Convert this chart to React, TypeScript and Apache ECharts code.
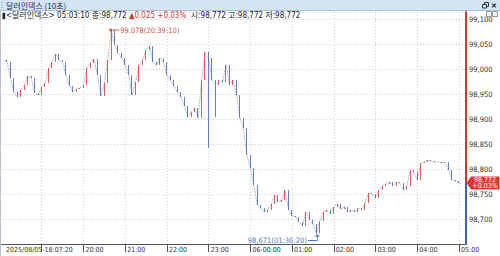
import React, { useEffect, useRef } from 'react';
import * as echarts from 'echarts';

// ---- data (seconds since 2025-08-05 00:00) ----
const openSec = 65240; // 18:07:20
const openValue = 99.018;
const sampleStartSec = 65400; // 18:10:00
const sampleStepSec = 300; // 5 minutes
const closes = [
  99.014, 98.982, 98.954, 98.944, 98.958, 98.968, 98.986, 98.982, 98.952, 98.948,
  98.964, 98.972, 99.002, 99.014, 99.030, 99.018, 99.014, 98.988, 98.966, 98.954,
  98.960, 98.962, 98.968, 99.002, 99.012, 99.020, 98.988, 98.946, 98.972, 99.018,
  99.078, 99.048, 99.032, 99.022, 99.008, 98.988, 98.948, 98.974, 99.008, 99.018,
  99.038, 99.046, 99.014, 99.008, 99.022, 99.014, 98.988, 98.978, 98.966, 98.954,
  98.944, 98.926, 98.904, 98.914, 98.922, 98.902, 98.978, 99.034, 99.022, 98.978,
  98.968, 98.978, 98.974, 99.008, 98.968, 98.978, 98.948, 98.902, 98.882, 98.828,
  98.802, 98.768, 98.728, 98.722, 98.714, 98.718, 98.730, 98.748, 98.734, 98.738,
  98.758, 98.718, 98.706, 98.704, 98.694, 98.686, 98.714, 98.698, 98.690, 98.671,
  98.696, 98.714, 98.718, 98.710, 98.724, 98.730, 98.720, 98.724, 98.714, 98.718,
  98.714, 98.722, 98.718, 98.732, 98.752, 98.750, 98.742, 98.758, 98.766, 98.770,
  98.774, 98.766, 98.774, 98.772, 98.758, 98.766, 98.798, 98.794, 98.778, 98.812,
  98.814, 98.818, 98.816, 98.814, 98.814, 98.812, 98.814, 98.798, 98.778, 98.776, 98.772,
];
const lastSec = 104590; // 05:03:10
const lastValue = 98.772;
const lastChange = 0.025;
const lastChangePct = 0.03;
const spikeIdx = [58, 60];
const spikeLow = [98.842, 98.904];
const markSecs = [74350, 92180]; // high 20:39:10, low 01:36:20 (+1 day)
const markValues = [99.078, 98.671];
const titleText = '달러인덱스 (10초)';
const nameText = '달러인덱스';
const startLabel = '2025/08/05-18:07:20';
const midnightLabel = '06-00:00';

const X_MIN = 64800, X_MAX = 105000, X_STEP = 3600;
const Y_MIN = 98.65, Y_MAX = 99.114, Y_STEP = 0.05;

const RED = '#d6352f';
const BLUE = '#3a65ad';
const NARROW = "'Liberation Sans Narrow','DejaVu Sans Condensed','Noto Sans CJK KR',sans-serif";

const fmt = (v: number) => v.toFixed(3).replace('.', ',');
const pad = (n: number) => String(n).padStart(2, '0');
const hms = (s: number) => {
  const t = s % 86400;
  return pad(Math.floor(t / 3600)) + ':' + pad(Math.floor((t % 3600) / 60)) + ':' + pad(t % 60);
};

export default function App() {
  const ref = useRef<HTMLDivElement>(null);
  useEffect(() => {
    if (!ref.current) return;
    const chart = echarts.init(ref.current, null, { renderer: 'svg' });

    const pts: [number, number][] = [[openSec, openValue]];
    closes.forEach((v, i) => pts.push([sampleStartSec + i * sampleStepSec, v]));
    pts.push([lastSec, lastValue]);

    const candles = pts.map((p, k) => {
      const o = k === 0 ? p[1] : pts[k - 1][1];
      const c = p[1];
      let lo = Math.min(o, c);
      const hi = Math.max(o, c);
      const si = spikeIdx.findIndex((idx) => sampleStartSec + idx * sampleStepSec === p[0]);
      if (si >= 0) lo = Math.min(lo, spikeLow[si]);
      return [p[0], o, c, lo, hi];
    });

    const option: any = {
      animation: false,
      backgroundColor: '#ffffff',
      grid: { left: -4.2, right: 34, top: 12, bottom: 12, containLabel: false },
      xAxis: {
        type: 'value', min: X_MIN, max: X_MAX, interval: X_STEP,
        axisLine: { show: true, lineStyle: { color: '#555', width: 1 } },
        axisTick: { show: true, length: 8, lineStyle: { color: '#555' } },
        axisLabel: {
          show: true, align: 'left', margin: 2, fontSize: 7, color: '#333', fontFamily: NARROW,
          padding: [0, 0, 0, 2], showMaxLabel: false, hideOverlap: false,
          formatter: (v: number) => {
            if (v % 3600 !== 0) return '';
            if (v === X_MIN) return '{f|' + startLabel + '}';
            if (v === X_MIN + 3600) return '';
            if (v === 86400) return midnightLabel;
            return pad(Math.floor(v / 3600) % 24) + ':00';
          },
          rich: { f: { padding: [0, 0, 0, 4], fontSize: 7, color: '#333', fontFamily: NARROW } },
        },
        splitLine: { show: true, lineStyle: { color: '#cfcfcf', type: [1, 2] } },
      },
      yAxis: {
        type: 'value', position: 'right', min: Y_MIN, max: Y_MAX, interval: Y_STEP,
        axisLine: { show: true, lineStyle: { color: BLUE, width: 2 } },
        axisTick: { show: false },
        axisLabel: {
          margin: 3, fontSize: 7.5, color: '#333', fontFamily: NARROW, showMaxLabel: false,
          formatter: (v: number) => {
            const k = Math.round((v - Y_MIN) / Y_STEP);
            if (Math.abs(Y_MIN + k * Y_STEP - v) > 1e-6 || k === 0) return '';
            return fmt(v);
          },
        },
        splitLine: { show: true, lineStyle: { color: '#cfcfcf', type: [1, 2] } },
      },
      series: [
        {
          type: 'line',
          data: pts,
          symbol: 'none',
          z: 1,
          lineStyle: { color: '#9a8ca6', width: 0.7, type: [2, 1] },
        },
        {
          type: 'candlestick',
          data: candles,
          z: 2,
          encode: { x: 0, y: [1, 2, 3, 4] },
          barWidth: 1,
          itemStyle: { color: RED, color0: BLUE, borderColor: RED, borderColor0: BLUE, borderWidth: 0.8 },
          markLine: {
            silent: true, symbol: ['none', 'none'], animation: false,
            label: { show: false },
            lineStyle: { color: RED, width: 2, type: 'solid' },
            data: [[{ coord: [X_MAX, lastValue] }, { coord: [X_MAX, Y_MAX] }]],
          },
          markPoint: {
            silent: true, animation: false,
            data: [
              {
                coord: [markSecs[0], markValues[0]],
                symbol: 'circle', symbolSize: 3,
                itemStyle: { color: '#c9504a' },
                label: {
                  show: true, position: 'right', distance: 0,
                  formatter: '{l|}{t|' + fmt(markValues[0]) + '(' + hms(markSecs[0]) + ')}',
                  rich: {
                    l: { width: 7, height: 1, backgroundColor: '#c9504a', verticalAlign: 'middle' },
                    t: { fontSize: 7.5, color: '#c9504a', fontFamily: NARROW, padding: [0, 0, 0, 1] },
                  },
                },
              },
              {
                coord: [markSecs[1], markValues[1]],
                symbol: 'path://M3,0 L6,3 L3.5,3 L3.5,8 L2.5,8 L2.5,3 L0,3 Z',
                symbolSize: [5, 7], symbolOffset: [0, 4],
                itemStyle: { color: '#5578b5' },
                label: {
                  show: true, position: 'left', distance: -2, offset: [0, 3],
                  formatter: '{t|' + fmt(markValues[1]) + '(' + hms(markSecs[1]) + ')}{l|}',
                  rich: {
                    l: { width: 9, height: 1, backgroundColor: '#5578b5', verticalAlign: 'middle' },
                    t: { fontSize: 7.5, color: '#5578b5', fontFamily: NARROW, padding: [0, 1, 0, 0] },
                  },
                },
              },
              {
                coord: [X_MAX, lastValue],
                symbol: 'path://M0,6.5 L4.5,0 L33,0 L33,13 L4.5,13 Z',
                symbolSize: [33, 13], symbolOffset: [17, 0], symbolKeepAspect: false,
                itemStyle: { color: '#e0362c' },
                label: {
                  show: true, position: 'inside', offset: [2, 0], color: '#fff', fontSize: 7,
                  lineHeight: 6.5, fontFamily: NARROW,
                  formatter: fmt(lastValue) + '\n+' + lastChangePct.toFixed(2) + '%',
                },
              },
            ],
          },
        },
      ],
      graphic: [
        { type: 'rect', z: 100, shape: { x: 0, y: 0, width: 500, height: 10 }, style: { fill: '#d3e4f2' } },
        { type: 'line', z: 100, shape: { x1: 0, y1: 10.5, x2: 500, y2: 10.5 }, style: { stroke: '#a9c1da', lineWidth: 1 } },
        { type: 'rect', z: 101, shape: { x: 1.5, y: 2, width: 1, height: 1 }, style: { fill: '#8aa2bc' } },
        { type: 'rect', z: 101, shape: { x: 1.5, y: 4.5, width: 1, height: 1 }, style: { fill: '#8aa2bc' } },
        { type: 'rect', z: 101, shape: { x: 1.5, y: 7, width: 1, height: 1 }, style: { fill: '#8aa2bc' } },
        { type: 'text', z: 101, x: 6, y: 5.5, style: { text: titleText, fill: '#1e2d52', fontSize: 8, fontFamily: "'Noto Sans CJK KR',sans-serif", verticalAlign: 'middle' } },
        { type: 'rect', z: 101, shape: { x: 484.5, y: 2.5, width: 4, height: 4 }, style: { fill: 'none', stroke: '#333', lineWidth: 1 } },
        { type: 'rect', z: 101, shape: { x: 482.5, y: 4.5, width: 4, height: 3.5 }, style: { fill: '#d3e4f2', stroke: '#333', lineWidth: 1 } },
        { type: 'text', z: 101, x: 491, y: 5.5, style: { text: '✕', fill: '#222', fontSize: 7, fontWeight: 'bold', verticalAlign: 'middle' } },
        { type: 'rect', z: 101, shape: { x: 486.5, y: 11.5, width: 5, height: 5 }, style: { fill: '#f2f2f2', stroke: '#9a9a9a', lineWidth: 1 } },
        { type: 'rect', z: 101, shape: { x: 492.5, y: 11.5, width: 5, height: 5 }, style: { fill: '#f2f2f2', stroke: '#9a9a9a', lineWidth: 1 } },
        { type: 'line', z: 101, shape: { x1: 0.5, y1: 11, x2: 0.5, y2: 256 }, style: { stroke: '#b7c3d1', lineWidth: 1 } },
        {
          type: 'text', z: 101, x: 2, y: 15.5,
          style: {
            text: '{k|▮<' + nameText + '> ' + hms(lastSec) + ' 종:' + fmt(lastValue) + ' }{r|▲' + lastChange.toFixed(3) + ' +' + lastChangePct.toFixed(2) + '%}{k|  시:' + fmt(lastValue) + ' 고:' + fmt(lastValue) + ' 저:' + fmt(lastValue) + '}',
            verticalAlign: 'middle',
            rich: {
              k: { fontSize: 8, fill: '#222', fontFamily: NARROW },
              r: { fontSize: 8, fill: '#d6352f', fontFamily: NARROW },
            },
          },
        },
      ],
    };
    chart.setOption(option);
    return () => chart.dispose();
  }, []);
  return <div ref={ref} style={{ position: 'absolute', left: 0, top: 0, width: 500, height: 256 }} />;
}
